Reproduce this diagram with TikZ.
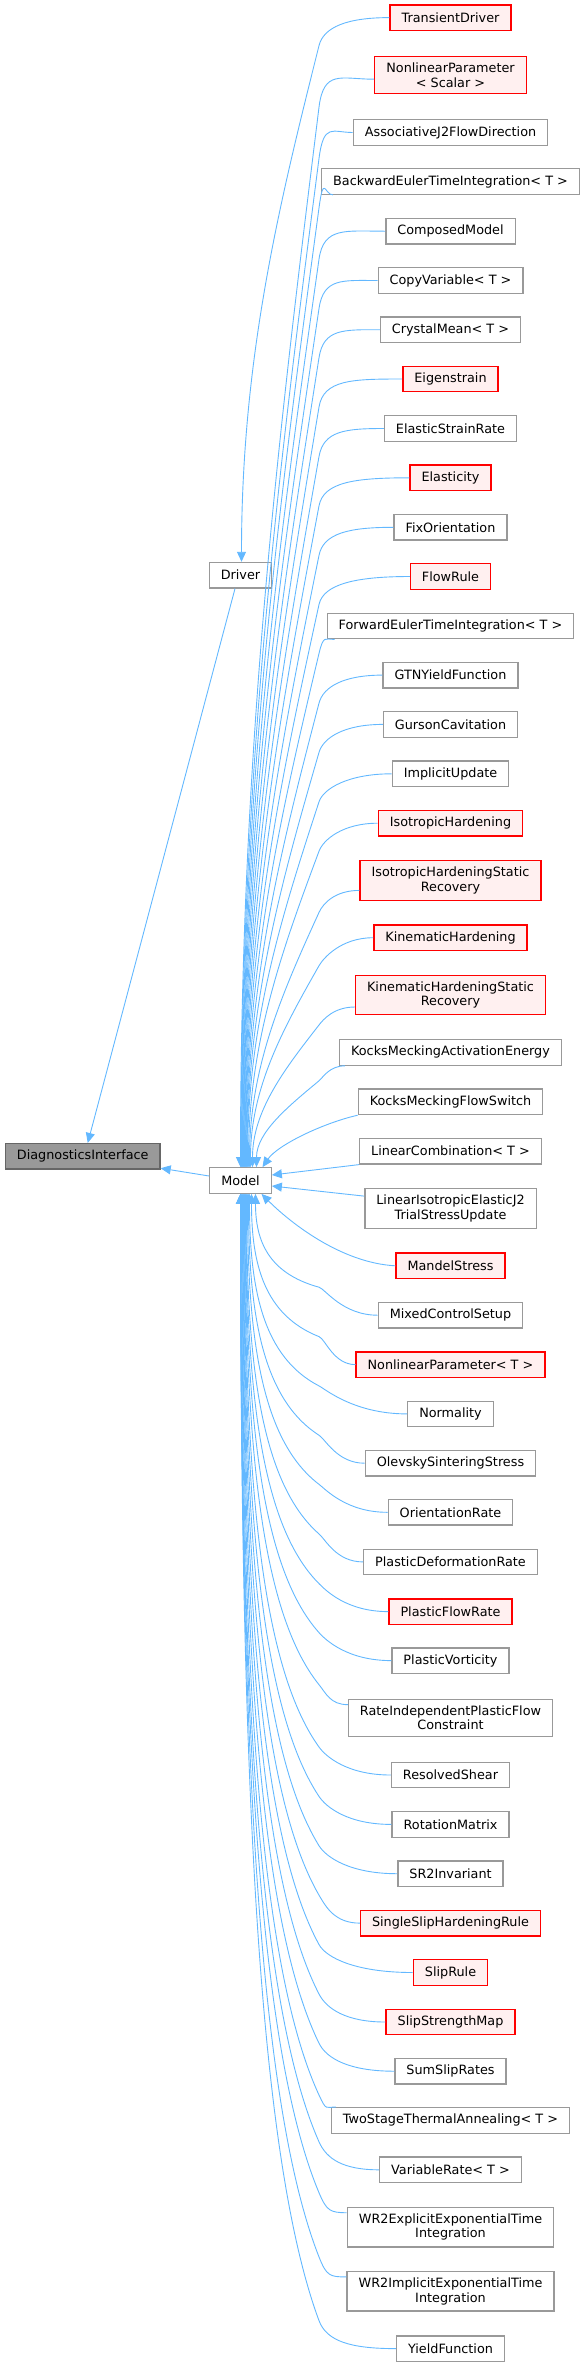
\documentclass[tikz,border=0pt]{standalone}
\usepackage{fontspec}
\setmainfont{DejaVu Sans}
\usepackage{tikz}
\usetikzlibrary{positioning, arrows.meta, calc}
\usepackage{xcolor}
\definecolor{edgeblue}{HTML}{63B8FF}
\definecolor{boxgrey}{HTML}{999999}
\definecolor{truncred}{HTML}{FF0000}
\definecolor{truncfill}{HTML}{FFF0F0}
\definecolor{basefill}{HTML}{999999}
\definecolor{basegrey}{HTML}{666666}

\tikzset{
  cls/.style={draw=boxgrey, fill=white, line width=1.3pt, inner xsep=11.5pt,
              inner ysep=6.3pt, minimum height=25.5pt, align=center},
  trunc/.style={cls, draw=truncred, fill=truncfill},
  basecls/.style={cls, draw=basegrey, fill=basefill},
  inh/.style={draw=edgeblue, line width=0.9pt, -{Triangle[length=10pt,width=9pt]}}
}

% child -> parent link: start, bend drop, parent anchor, xshift at parent,
% then how fast the long part leaves the spine (x part, y part) and lands
\newcommand{\inhlink}[7]{%
  \coordinate (s) at (#1);
  \coordinate (b) at ($(s -| spine)+(0,#2)$);
  \coordinate (e) at ([xshift=#4pt]#3);
  \coordinate (cx) at ($(b)!#5!(e |- b)$);
  \coordinate (cy) at ($(b)!#6!(b |- e)$);
  \coordinate (c4) at ($(e)!#7!(e |- b)$);
  \draw[inh] (s) .. controls ($(s)!0.6!(s -| b)$) and ($(b)!-0.12!(cx |- cy)$) .. (b)
    .. controls (cx |- cy) and (c4) .. (e);}
\newcommand{\uplink}[4]{\inhlink{#1}{#2}{#3}{#4}{0.5}{0.3}{0.4}}
\newcommand{\downlink}[4]{\inhlink{#1}{#2}{#3}{#4}{0.8}{0.15}{0.5}}

\begin{document}
\begin{tikzpicture}[x=1pt, y=-1pt, font=\fontsize{12.8pt}{14.5pt}\selectfont]
  \useasboundingbox (0,0) rectangle (587,2367);
  \coordinate (spine) at (319,0);

  % bases
  \node[basecls] (di) at (82.75,1156.3) {DiagnosticsInterface};
  \node[cls] (model) at (240.5,1180.5) {Model};
  \node[cls] (driver) at (240.5,575.2) {Driver};

  % derived classes
  \node[trunc] (transdrv) at (450.5,17.6) {TransientDriver};
  \node[trunc] (nlscalar) at (450.5,75.2) {NonlinearParameter\\< Scalar >};
  \node[cls] (assoc) at (450.5,132.5) {AssociativeJ2FlowDirection};
  \node[cls] (backward) at (450.5,181.5) {BackwardEulerTimeIntegration< T >};
  \node[cls] (composed) at (450.5,231.2) {ComposedModel};
  \node[cls] (copyvar) at (450.5,280.5) {CopyVariable< T >};
  \node[cls] (crystal) at (450.5,329.7) {CrystalMean< T >};
  \node[trunc] (eigen) at (450.5,379) {Eigenstrain};
  \node[cls] (elasticsr) at (450.5,428.5) {ElasticStrainRate};
  \node[trunc] (elasticity) at (450.5,477.8) {Elasticity};
  \node[cls] (fixori) at (450.5,527.3) {FixOrientation};
  \node[trunc] (flowrule) at (450.5,576.5) {FlowRule};
  \node[cls] (fwdeuler) at (450.5,626) {ForwardEulerTimeIntegration< T >};
  \node[cls] (gtn) at (450.5,675.1) {GTNYieldFunction};
  \node[cls] (gurson) at (450.5,724.4) {GursonCavitation};
  \node[cls] (implicit) at (450.5,773.8) {ImplicitUpdate};
  \node[trunc] (isoh) at (450.5,823.2) {IsotropicHardening};
  \node[trunc] (isohsr) at (450.5,880.4) {IsotropicHardeningStatic\\Recovery};
  \node[trunc] (kinh) at (450.5,937.7) {KinematicHardening};
  \node[trunc] (kinhsr) at (450.5,995) {KinematicHardeningStatic\\Recovery};
  \node[cls] (kma) at (450.5,1052.4) {KocksMeckingActivationEnergy};
  \node[cls] (kfs) at (450.5,1101.8) {KocksMeckingFlowSwitch};
  \node[cls] (lincomb) at (450.5,1151.2) {LinearCombination< T >};
  \node[cls] (linj2) at (450.5,1208.5) {LinearIsotropicElasticJ2\\TrialStressUpdate};
  \node[trunc] (mandel) at (450.5,1265.8) {MandelStress};
  \node[cls] (mixed) at (450.5,1315.2) {MixedControlSetup};
  \node[trunc] (nlt) at (450.5,1364.6) {NonlinearParameter< T >};
  \node[cls] (normality) at (450.5,1413.9) {Normality};
  \node[cls] (olevsky) at (450.5,1463.2) {OlevskySinteringStress};
  \node[cls] (orientrate) at (450.5,1512.3) {OrientationRate};
  \node[cls] (pdefrate) at (450.5,1561.9) {PlasticDeformationRate};
  \node[trunc] (pflowrate) at (450.5,1611.6) {PlasticFlowRate};
  \node[cls] (pvort) at (450.5,1660.6) {PlasticVorticity};
  \node[cls] (rateindep) at (450.5,1717.8) {RateIndependentPlasticFlow\\Constraint};
  \node[cls] (resolved) at (450.5,1775) {ResolvedShear};
  \node[cls] (rotmat) at (450.5,1824.4) {RotationMatrix};
  \node[cls] (sr2) at (450.5,1873.7) {SR2Invariant};
  \node[trunc] (singleslip) at (450.5,1923.1) {SingleSlipHardeningRule};
  \node[trunc] (sliprule) at (450.5,1972.5) {SlipRule};
  \node[trunc] (slipstrength) at (450.5,2022) {SlipStrengthMap};
  \node[cls] (sumslip) at (450.5,2071.2) {SumSlipRates};
  \node[cls] (twostage) at (450.5,2120.4) {TwoStageThermalAnnealing< T >};
  \node[cls] (varrate) at (450.5,2169.8) {VariableRate< T >};
  \node[cls] (wrexp) at (450.5,2227.1) {WR2ExplicitExponentialTime\\Integration};
  \node[cls] (wrimp) at (450.5,2291.3) {WR2ImplicitExponentialTime\\Integration};
  \node[cls] (yieldfn) at (450.5,2348.6) {YieldFunction};

  % links to the bases
  \draw[inh] ([xshift=-5.5pt]driver.south) -- ([xshift=5pt]di.north);
  \draw[inh] ($(model.west)+(0,-4.5)$) -- ($(di.south east)+(0,-1.5)$);
  \uplink{transdrv.west}{28}{driver.north}{1}

  % children above Model
  \uplink{$(nlscalar.west)+(0,4)$}{28}{model.north}{0}
  \uplink{assoc.west}{26}{model.north}{0.5}
  \uplink{[xshift=12pt]backward.south west}{13}{model.north}{1}
  \uplink{composed.west}{28}{model.north}{1.5}
  \uplink{copyvar.west}{28}{model.north}{2}
  \uplink{crystal.west}{28}{model.north}{2.5}
  \uplink{eigen.west}{28}{model.north}{3}
  \uplink{elasticsr.west}{28}{model.north}{3.5}
  \uplink{elasticity.west}{28}{model.north}{4}
  \uplink{fixori.west}{28}{model.north}{4.5}
  \uplink{flowrule.west}{28}{model.north}{5}
  \uplink{[xshift=8pt]fwdeuler.south west}{14}{model.north}{5.5}
  \uplink{gtn.west}{28}{model.north}{6}
  \uplink{gurson.west}{28}{model.north}{6.5}
  \uplink{implicit.west}{28}{model.north}{7}
  \uplink{isoh.west}{28}{model.north}{8}
  \uplink{$(isohsr.west)+(0,10)$}{22}{model.north}{9}
  \uplink{kinh.west}{28}{model.north}{10}
  \uplink{$(kinhsr.west)+(0,12)$}{18}{model.north}{12}
  \uplink{[xshift=6pt]kma.south west}{15}{model.north}{16}
  \draw[inh] (kfs.south west) .. controls +(-35,8) and +(15,-22) .. ([xshift=22pt]model.north);
  \draw[inh] (lincomb.south west) -- ($(model.east)+(0,-5.5)$);

  % children below Model
  \draw[inh] ($(linj2.north west)+(0,8)$) -- ($(model.east)+(0,5.5)$);
  \draw[inh] (mandel.west) .. controls +(-55,-3) and +(28,28) .. ([xshift=21pt]model.south);
  \downlink{mixed.west}{-28}{model.south}{15}
  \downlink{nlt.west}{-28}{model.south}{11}
  \downlink{normality.west}{-28}{model.south}{9}
  \downlink{olevsky.west}{-28}{model.south}{8}
  \downlink{orientrate.west}{-28}{model.south}{7}
  \downlink{pdefrate.west}{-28}{model.south}{6}
  \downlink{pflowrate.west}{-28}{model.south}{5.5}
  \downlink{pvort.west}{-28}{model.south}{5}
  \downlink{$(rateindep.north west)+(0,6)$}{-20}{model.south}{4.5}
  \downlink{resolved.west}{-28}{model.south}{4}
  \downlink{rotmat.west}{-28}{model.south}{3.5}
  \downlink{sr2.west}{-28}{model.south}{3}
  \downlink{singleslip.west}{-28}{model.south}{2.5}
  \downlink{sliprule.west}{-28}{model.south}{2}
  \downlink{slipstrength.west}{-28}{model.south}{1.5}
  \downlink{sumslip.west}{-28}{model.south}{1}
  \downlink{[xshift=5pt]twostage.north west}{-12}{model.south}{0.5}
  \downlink{varrate.west}{-28}{model.south}{0}
  \downlink{$(wrexp.north west)+(0,6)$}{-20}{model.south}{0}
  \downlink{$(wrimp.north west)+(0,6)$}{-20}{model.south}{0}
  \downlink{yieldfn.west}{-28}{model.south}{0}
\end{tikzpicture}
\end{document}
